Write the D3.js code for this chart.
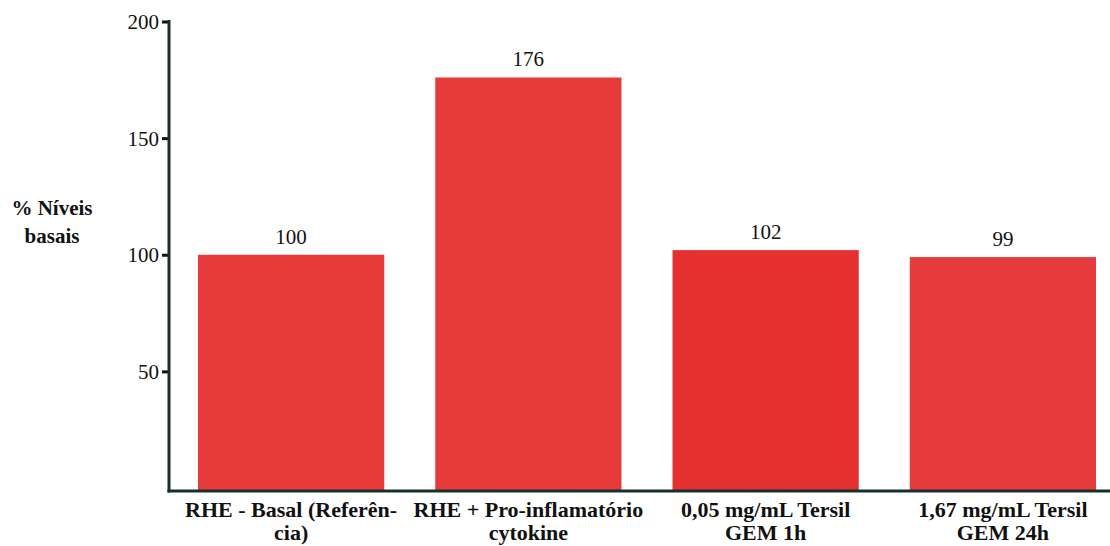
<!DOCTYPE html>
<html>
<head>
<meta charset="utf-8">
<script src="https://cdn.jsdelivr.net/npm/d3@7"></script>
<style>
  html, body { margin: 0; padding: 0; background: #fff; }
  svg { display: block; }
  svg text { font-family: "Liberation Serif", "Times New Roman", Tinos, "DejaVu Serif", "Noto Serif", Times, serif; fill: #111; }
</style>
</head>
<body>
<svg id="chart" width="1110" height="546"></svg>
<script>
// Categories (wrapped onto two lines) and their values
const categories = [
  ["RHE - Basal (Referên-", "cia)"],
  ["RHE + Pro-inflamatório", "cytokine"],
  ["0,05 mg/mL Tersil", "GEM 1h"],
  ["1,67 mg/mL Tersil", "GEM 24h"]
];
const values = [100, 176, 102, 99];
const barColors = ["#e63a3b", "#e63a3b", "#e53030", "#e63b3c"];
const yTicks = [50, 100, 150, 200];
const yTitle = ["% Níveis", "basais"];

const serif = "'Liberation Serif', 'Times New Roman', Tinos, 'DejaVu Serif', 'Noto Serif', Times, serif";
const svg = d3.select("#chart").attr("font-family", serif);
const axisColor = "#16302b";
const axisX = 169, baseY = 491;

const x = d3.scaleBand()
  .domain(d3.range(categories.length))
  .range([198, 1096])
  .paddingInner(0.215)
  .paddingOuter(0);

const y = d3.scaleLinear().domain([0, 200]).range([488, 21.5]);

// Bars
svg.selectAll("rect.bar")
  .data(values)
  .join("rect")
  .attr("class", "bar")
  .attr("x", (d, i) => x(i))
  .attr("width", x.bandwidth())
  .attr("y", d => y(d))
  .attr("height", d => baseY - y(d))
  .attr("fill", (d, i) => barColors[i]);

// Value labels
svg.selectAll("text.val")
  .data(values)
  .join("text")
  .attr("class", "val")
  .attr("x", (d, i) => x(i) + x.bandwidth() / 2)
  .attr("y", d => y(d) - 11)
  .attr("text-anchor", "middle")
  .attr("font-family", serif)
  .attr("font-size", 21)
  .text(d => d);

// Y axis
const yAxis = d3.axisLeft(y).tickValues(yTicks).tickSize(7).tickPadding(3);
const gy = svg.append("g").attr("transform", `translate(${axisX},0)`).call(yAxis)
  .attr("font-family", serif).attr("font-size", 21);
gy.select(".domain").remove();
gy.selectAll(".tick line").attr("stroke", "#111").attr("stroke-width", 3);
gy.selectAll(".tick text").attr("fill", "#111").attr("dy", "0.34em");

// Axis lines
svg.append("line")
  .attr("x1", axisX).attr("x2", axisX)
  .attr("y1", y(200) - 1.5).attr("y2", baseY + 1.5)
  .attr("stroke", axisColor).attr("stroke-width", 3);
svg.append("line")
  .attr("x1", axisX - 1.5).attr("x2", 1110)
  .attr("y1", baseY).attr("y2", baseY)
  .attr("stroke", axisColor).attr("stroke-width", 3);

// X category labels
const xl = svg.selectAll("text.cat")
  .data(categories)
  .join("text")
  .attr("class", "cat")
  .attr("text-anchor", "middle")
  .attr("font-family", serif)
  .attr("font-size", 22)
  .attr("font-weight", "bold");
xl.selectAll("tspan")
  .data((d, i) => d.map(line => ({ line, i })))
  .join("tspan")
  .attr("x", d => x(d.i) + x.bandwidth() / 2)
  .attr("y", (d, j) => 517 + j * 23)
  .text(d => d.line);

// Y title
svg.append("text")
  .attr("text-anchor", "middle")
  .attr("font-family", serif)
  .attr("font-size", 21)
  .attr("font-weight", "bold")
  .selectAll("tspan")
  .data(yTitle)
  .join("tspan")
  .attr("x", 52)
  .attr("y", (d, j) => 215 + j * 28)
  .text(d => d);
</script>
</body>
</html>
